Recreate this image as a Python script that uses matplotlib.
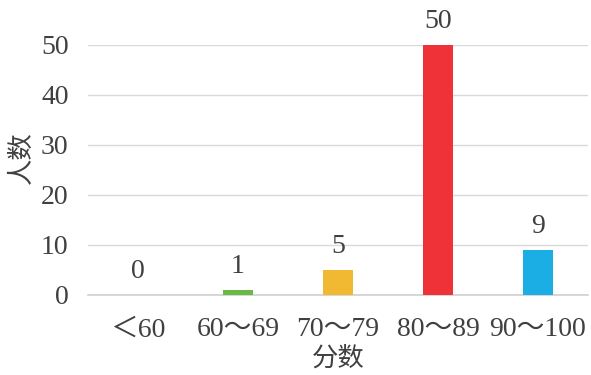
import matplotlib
matplotlib.use("Agg")
import matplotlib.pyplot as plt

categories = ["＜60", "60～69", "70～79", "80～89", "90～100"]
values = [0, 1, 5, 50, 9]
colors = ["#6ab846", "#6ab846", "#f1b931", "#ef3237", "#1aaee5"]
yticks = [0, 10, 20, 30, 40, 50]

plt.rcParams['font.family'] = ['Liberation Serif', 'Noto Sans CJK SC', 'DejaVu Sans']
text_color = "#404040"

fig = plt.figure(figsize=(5.91, 3.75), dpi=100)
ax = fig.add_axes([88/591, 1-295/375, 500/591, 250/375])

x = list(range(len(categories)))
bars = ax.bar(x, values, width=0.3, color=colors, zorder=3)
for xi, v in zip(x, values):
    ax.annotate(str(v), (xi, v), xytext=(0, 17), textcoords="offset points",
                ha="center", va="center", fontsize=20, color=text_color,
                annotation_clip=False)

ax.set_xlim(-0.5, len(categories) - 0.5)
ax.set_ylim(0, 50)
ax.set_yticks(yticks)
ax.set_xticks(x)
ax.set_xticklabels(categories)
ax.tick_params(axis="both", length=0, labelsize=20, labelcolor=text_color)
ax.tick_params(axis="x", pad=16)
ax.tick_params(axis="y", pad=14)
ax.yaxis.grid(True, color="#d9d9d9", linewidth=1, zorder=0)
ax.set_axisbelow(True)
for s in ["top", "right", "left"]:
    ax.spines[s].set_visible(False)
ax.spines["bottom"].set_color("#d0d0d0")
ax.spines["bottom"].set_linewidth(1.2)

fig.text(338/591, 1-358/375, "分数", fontsize=19, color=text_color,
         ha="center", va="center")
fig.text(22/591, 1-158/375, "人数", fontsize=19, color=text_color,
         ha="center", va="center", rotation=90)

fig.savefig("out.png", dpi=100)
